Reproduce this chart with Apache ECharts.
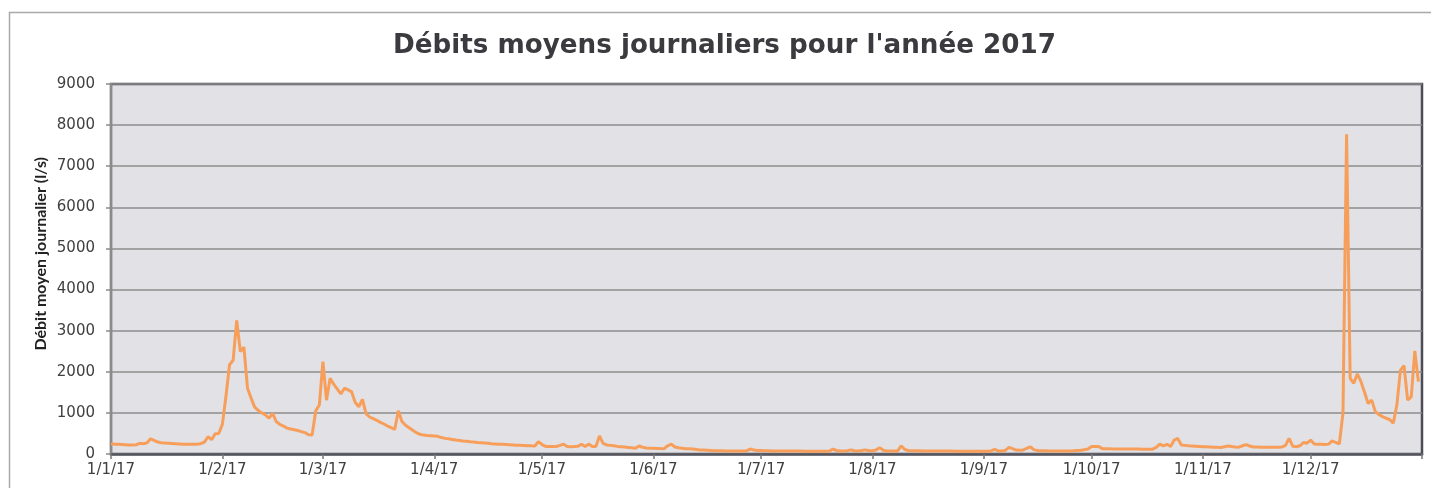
<!DOCTYPE html>
<html>
<head>
<meta charset="utf-8">
<script src="https://cdn.jsdelivr.net/npm/echarts@6/dist/echarts.min.js"></script>
<style>
html,body{margin:0;padding:0;background:#fff;}
#chart{width:1431px;height:488px;}
</style>
</head>
<body>
<div id="chart"></div>
<script>
// Daily mean flow (l/s), 2017, one array per month
const jan = [250,240,235,230,225,220,220,225,260,250,270,370,330,290,275,265,260,255,250,245,240,235,235,240,240,250,290,420,350,490,500];
const feb = [720,1400,2170,2280,3250,2490,2600,1600,1360,1140,1060,1000,950,870,990,790,720,680,630,610,590,570,545,520,470,465,1050,1190];
const mar = [2245,1310,1840,1700,1580,1460,1600,1560,1510,1250,1150,1330,980,900,860,820,770,730,680,640,600,1050,790,700,640,580,520,480,460,450,445];
const apr = [440,430,400,380,370,355,340,330,318,308,298,290,282,275,268,260,252,246,240,235,230,225,220,215,210,206,202,198,195,300];
const may = [230,185,180,180,182,210,240,180,178,180,190,235,180,240,185,180,440,260,220,210,200,185,178,170,160,150,140,195,165,145,140];
const jun = [138,135,132,130,200,240,170,150,140,130,125,120,110,100,95,90,85,80,78,77,76,75,75,74,74,75,80,120,95,88];
const jul = [85,80,78,76,75,74,73,72,72,71,70,70,69,68,68,67,66,66,65,70,120,85,75,72,80,100,80,75,85,100,80];
const aug = [80,95,155,90,75,72,72,75,200,110,85,80,78,77,76,75,74,73,72,72,71,70,70,69,68,68,67,66,66,65,65];
const sep = [65,68,75,110,75,70,90,160,130,95,90,100,140,175,100,85,80,78,75,73,72,70,70,70,72,80,85,90,105,120];
const oct = [180,182,180,130,125,125,124,123,122,122,121,120,120,119,118,117,116,118,160,240,200,235,180,340,380,220,210,200,195,190,185];
const nov = [178,175,170,165,162,160,175,195,180,168,165,200,230,195,170,168,165,165,165,165,165,165,170,210,380,190,178,200,280,262];
const dec = [340,245,240,235,230,240,320,280,250,1000,7780,1840,1720,1950,1760,1500,1230,1310,1030,960,910,870,840,750,1190,2040,2150,1310,1390,2510,1760];

const months = [jan,feb,mar,apr,may,jun,jul,aug,sep,oct,nov,dec];
const yTicks = [0,1000,2000,3000,4000,5000,6000,7000,8000,9000];

// category per day "d/m/17", plus the closing 1/1/18
const categories = [];
const values = [];
months.forEach((arr, m) => {
  arr.forEach((v, d) => {
    categories.push((d + 1) + '/' + (m + 1) + '/17');
    values.push(v);
  });
});
categories.push('1/1/18');
const lastIdx = categories.length - 1;

const chart = echarts.init(document.getElementById('chart'), null, {renderer: 'canvas'});
const FONT = 'DejaVu Sans';
chart.setOption({
  animation: false,
  backgroundColor: '#ffffff',
  title: {
    text: "Débits moyens journaliers pour l'année 2017",
    left: 388,
    top: 28,
    textStyle: {fontFamily: FONT, fontWeight: 'bold', fontSize: 26.2, color: '#3a3a3f'}
  },
  graphic: [
    {type: 'rect', shape: {x: 9.5, y: 12.5, width: 1460, height: 520},
     style: {fill: 'none', stroke: '#a9a9a9', lineWidth: 1.5}, silent: true, z: -1},
    {type: 'text', left: 33, top: 157, rotation: Math.PI / 2,
     style: {text: 'Débit moyen journalier (l/s)', fontFamily: 'Lato', fontWeight: 'bold', fontSize: 16, fill: '#222222'},
     silent: true}
  ],
  grid: {
    left: 111, right: 9, top: 84, bottom: 34,
    show: true, backgroundColor: '#e1e1e6', borderColor: '#4d4d57', borderWidth: 2.5
  },
  xAxis: {
    type: 'category',
    data: categories,
    boundaryGap: false,
    axisLine: {lineStyle: {color: '#55555f', width: 2.5}},
    axisTick: {
      show: true, length: 5, inside: false,
      interval: (idx, val) => val.startsWith('1/'),
      lineStyle: {color: '#777777', width: 1.5}
    },
    axisLabel: {
      interval: (idx, val) => val.startsWith('1/') && idx < lastIdx,
      margin: 9,
      fontFamily: FONT, fontSize: 15, color: '#404040'
    },
    splitLine: {show: false}
  },
  yAxis: {
    type: 'value',
    min: yTicks[0], max: yTicks[yTicks.length - 1], interval: 1000,
    axisLine: {show: true, lineStyle: {color: '#8a8a8a', width: 2}},
    axisTick: {show: true, length: 5, lineStyle: {color: '#8a8a8a', width: 1.5}},
    axisLabel: {margin: 16, fontFamily: FONT, fontSize: 15, color: '#404040',
      formatter: v => String(v)},
    splitLine: {show: true, lineStyle: {color: '#8c8c8c', width: 1.5}}
  },
  series: [{
    type: 'line',
    data: values,
    showSymbol: false,
    smooth: false,
    lineStyle: {color: '#f79f5a', width: 3},
    itemStyle: {color: '#f79f5a'}
  }]
});
</script>
</body>
</html>
